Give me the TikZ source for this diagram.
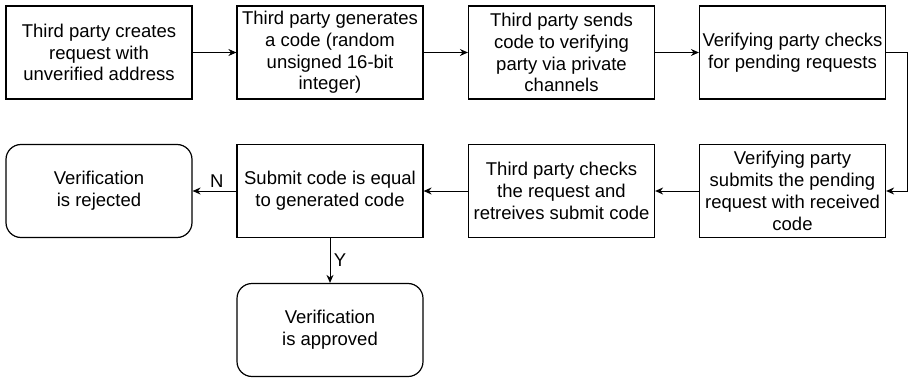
\documentclass[tikz,border=0pt]{standalone}
\usepackage{fontspec}
\setmainfont{Liberation Sans}
\usetikzlibrary{arrows.meta}
\begin{document}
\begin{tikzpicture}[x=1pt,y=-1pt,
  box/.style={draw, line width=1.2pt, minimum width=186pt, minimum height=93pt, align=center, inner sep=1pt, font=\fontsize{18.5}{21.8}\selectfont},
  rbox/.style={box, rounded corners=15pt},
  conn/.style={line width=1pt, -{Stealth[length=8pt,width=7pt]}},
  lbl/.style={font=\fontsize{18.5}{21.8}\selectfont}]
\useasboundingbox (0,0) rectangle (909,377);
\node[box] (b1) at (99,52.5) {Third party creates\\request with\\unverified address};
\node[box] (b2) at (330,52.5) {Third party generates\\a code (random\\unsigned 16-bit\\integer)};
\node[box] (b3) at (561.5,52.5) {Third party sends\\code to verifying\\party via private\\channels};
\node[box] (b4) at (792.5,52.5) {Verifying party checks\\for pending requests};
\node[box] (b5) at (792.5,191) {Verifying party\\submits the pending\\request with received\\code};
\node[box] (b6) at (561.5,191) {Third party checks\\the request and\\retreives submit code};
\node[box] (b7) at (330,191) {Submit code is equal\\to generated code};
\node[rbox] (rej) at (99,191) {Verification\\is rejected};
\node[rbox] (app) at (330,330) {Verification\\is approved};
\coordinate (c1) at (907,52.5);
\draw[conn] (b1) -- (b2);
\draw[conn] (b2) -- (b3);
\draw[conn] (b3) -- (b4);
\draw[conn] (b4.east) -- (c1) |- (b5.east);
\draw[conn] (b5) -- (b6);
\draw[conn] (b6) -- (b7);
\draw[conn] (b7) -- node[lbl, above, pos=0.45] {N} (rej);
\draw[conn] (b7) -- node[lbl, right, pos=0.5] {Y} (app);
\end{tikzpicture}
\end{document}
